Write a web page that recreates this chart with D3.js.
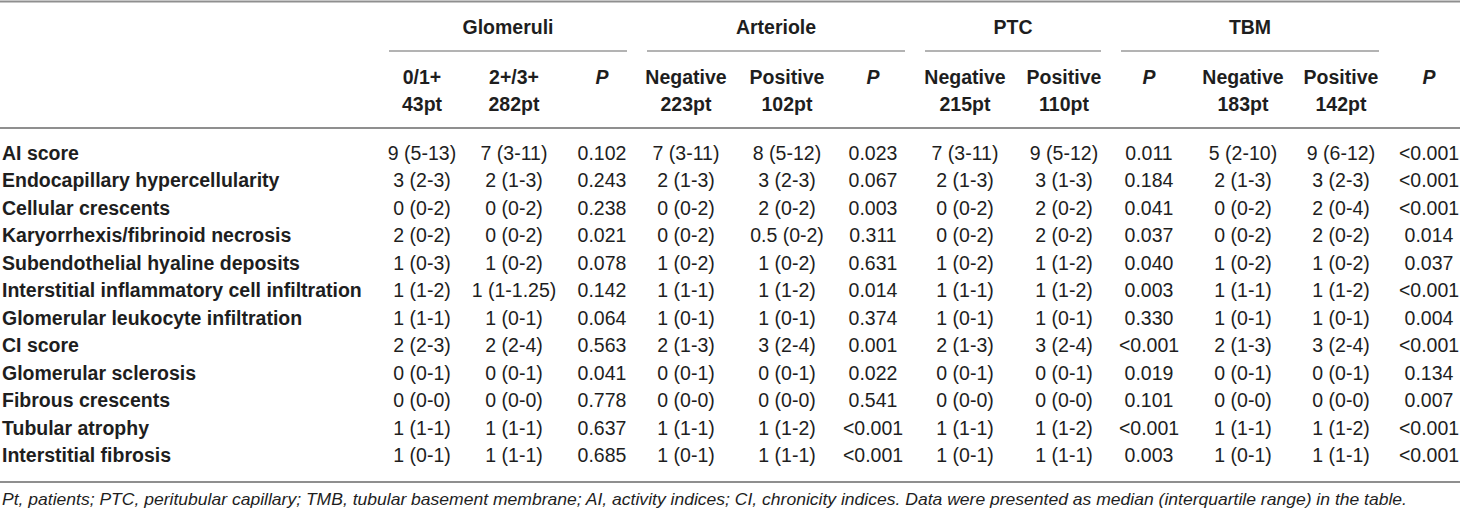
<!DOCTYPE html>
<html>
<head>
<meta charset="utf-8">
<script src="https://cdn.jsdelivr.net/npm/d3@7/dist/d3.min.js"></script>
<style>
  html, body { margin: 0; padding: 0; background: #fff; }
  svg { display: block; }
  text { font-family: "Liberation Sans", Arial, Helvetica, sans-serif; fill: #1e1e1e; }
</style>
</head>
<body>
<div id="chart"></div>
<script>
// ---------- DATA ----------
const groupNames = ["Glomeruli", "Arteriole", "PTC", "TBM"];
const groupSpans = [[0, 2], [3, 5], [6, 7], [8, 10]];   // column index ranges covered by each group rule
const subHeadTop = ["0/1+", "2+/3+", "P", "Negative", "Positive", "P", "Negative", "Positive", "P", "Negative", "Positive", "P"];
const subHeadBottom = ["43pt", "282pt", "", "223pt", "102pt", "", "215pt", "110pt", "", "183pt", "142pt", ""];

const rowLabels = [
  "AI score",
  "Endocapillary hypercellularity",
  "Cellular crescents",
  "Karyorrhexis/fibrinoid necrosis",
  "Subendothelial hyaline deposits",
  "Interstitial inflammatory cell infiltration",
  "Glomerular leukocyte infiltration",
  "CI score",
  "Glomerular sclerosis",
  "Fibrous crescents",
  "Tubular atrophy",
  "Interstitial fibrosis"
];

const glomLow  = ["9 (5-13)", "3 (2-3)", "0 (0-2)", "2 (0-2)", "1 (0-3)", "1 (1-2)", "1 (1-1)", "2 (2-3)", "0 (0-1)", "0 (0-0)", "1 (1-1)", "1 (0-1)"];
const glomHigh = ["7 (3-11)", "2 (1-3)", "0 (0-2)", "0 (0-2)", "1 (0-2)", "1 (1-1.25)", "1 (0-1)", "2 (2-4)", "0 (0-1)", "0 (0-0)", "1 (1-1)", "1 (1-1)"];
const glomP    = ["0.102", "0.243", "0.238", "0.021", "0.078", "0.142", "0.064", "0.563", "0.041", "0.778", "0.637", "0.685"];
const artNeg   = ["7 (3-11)", "2 (1-3)", "0 (0-2)", "0 (0-2)", "1 (0-2)", "1 (1-1)", "1 (0-1)", "2 (1-3)", "0 (0-1)", "0 (0-0)", "1 (1-1)", "1 (0-1)"];
const artPos   = ["8 (5-12)", "3 (2-3)", "2 (0-2)", "0.5 (0-2)", "1 (0-2)", "1 (1-2)", "1 (0-1)", "3 (2-4)", "0 (0-1)", "0 (0-0)", "1 (1-2)", "1 (1-1)"];
const artP     = ["0.023", "0.067", "0.003", "0.311", "0.631", "0.014", "0.374", "0.001", "0.022", "0.541", "<0.001", "<0.001"];
const ptcNeg   = ["7 (3-11)", "2 (1-3)", "0 (0-2)", "0 (0-2)", "1 (0-2)", "1 (1-1)", "1 (0-1)", "2 (1-3)", "0 (0-1)", "0 (0-0)", "1 (1-1)", "1 (0-1)"];
const ptcPos   = ["9 (5-12)", "3 (1-3)", "2 (0-2)", "2 (0-2)", "1 (1-2)", "1 (1-2)", "1 (0-1)", "3 (2-4)", "0 (0-1)", "0 (0-0)", "1 (1-2)", "1 (1-1)"];
const ptcP     = ["0.011", "0.184", "0.041", "0.037", "0.040", "0.003", "0.330", "<0.001", "0.019", "0.101", "<0.001", "0.003"];
const tbmNeg   = ["5 (2-10)", "2 (1-3)", "0 (0-2)", "0 (0-2)", "1 (0-2)", "1 (1-1)", "1 (0-1)", "2 (1-3)", "0 (0-1)", "0 (0-0)", "1 (1-1)", "1 (0-1)"];
const tbmPos   = ["9 (6-12)", "3 (2-3)", "2 (0-4)", "2 (0-2)", "1 (0-2)", "1 (1-2)", "1 (0-1)", "3 (2-4)", "0 (0-1)", "0 (0-0)", "1 (1-2)", "1 (1-1)"];
const tbmP     = ["<0.001", "<0.001", "<0.001", "0.014", "0.037", "<0.001", "0.004", "<0.001", "0.134", "0.007", "<0.001", "<0.001"];

const footnote = "Pt, patients; PTC, peritubular capillary; TMB, tubular basement membrane; AI, activity indices; CI, chronicity indices. Data were presented as median (interquartile range) in the table.";

// ---------- LAYOUT ----------
const W = 1460, H = 510;
const colEdges = [379, 468, 558, 637, 736, 830, 915, 1014, 1111, 1196, 1292, 1389, 1469];
const colCenters = [422, 514, 602, 686, 787, 873, 965, 1064, 1149, 1243, 1341, 1429];
const fs = 19.5;

const columns = [glomLow, glomHigh, glomP, artNeg, artPos, artP, ptcNeg, ptcPos, ptcP, tbmNeg, tbmPos, tbmP];
const colIdx = d3.range(columns.length);

const x = d3.scaleOrdinal().domain(colIdx).range(colCenters);
const xEdge = d3.scaleOrdinal().domain(d3.range(colEdges.length)).range(colEdges);
const y = d3.scalePoint().domain(d3.range(rowLabels.length)).range([153, 455.5]);

const svg = d3.select("#chart").append("svg").attr("width", W).attr("height", H);

// rules
const rules = [
  { y: 1.5, w: 2 },
  { y: 128, w: 2 },
  { y: 482, w: 2 }
];
svg.selectAll("line.rule").data(rules).join("line")
  .attr("class", "rule")
  .attr("x1", 0).attr("x2", W)
  .attr("y1", d => d.y).attr("y2", d => d.y)
  .attr("stroke", "#8f8f8f").attr("stroke-width", d => d.w);

// group headers
const groups = groupNames.map((name, i) => ({ name, s: groupSpans[i][0], e: groupSpans[i][1] }));
svg.selectAll("text.group").data(groups).join("text")
  .attr("class", "group")
  .attr("x", d => (xEdge(d.s) + xEdge(d.e + 1)) / 2)
  .attr("y", 27)
  .attr("dy", "0.35em")
  .attr("text-anchor", "middle")
  .attr("font-weight", "bold")
  .attr("font-size", fs)
  .text(d => d.name);

svg.selectAll("line.grule").data(groups).join("line")
  .attr("class", "grule")
  .attr("x1", d => xEdge(d.s) + 10)
  .attr("x2", d => xEdge(d.e + 1) - 10)
  .attr("y1", 51).attr("y2", 51)
  .attr("stroke", "#9a9a9a").attr("stroke-width", 1.5);

// sub headers
svg.selectAll("text.sh1").data(colIdx).join("text")
  .attr("class", "sh1")
  .attr("x", i => x(i)).attr("y", 77).attr("dy", "0.35em")
  .attr("text-anchor", "middle")
  .attr("font-weight", "bold")
  .attr("font-style", i => subHeadTop[i] === "P" ? "italic" : "normal")
  .attr("font-size", fs)
  .text(i => subHeadTop[i]);

svg.selectAll("text.sh2").data(colIdx).join("text")
  .attr("class", "sh2")
  .attr("x", i => x(i)).attr("y", 104).attr("dy", "0.35em")
  .attr("text-anchor", "middle")
  .attr("font-weight", "bold")
  .attr("font-size", fs)
  .text(i => subHeadBottom[i]);

// row labels
svg.selectAll("text.rl").data(rowLabels).join("text")
  .attr("class", "rl")
  .attr("x", 2).attr("y", (d, i) => y(i)).attr("dy", "0.35em")
  .attr("font-weight", "bold")
  .attr("font-size", fs)
  .text(d => d);

// cells
const cells = [];
columns.forEach((col, c) => col.forEach((v, r) => cells.push({ c, r, v })));
svg.selectAll("text.cell").data(cells).join("text")
  .attr("class", "cell")
  .attr("x", d => x(d.c)).attr("y", d => y(d.r)).attr("dy", "0.35em")
  .attr("text-anchor", "middle")
  .attr("font-size", fs)
  .attr("fill", "#2a2a2a")
  .text(d => d.v);

// footnote
svg.append("text")
  .attr("x", 2).attr("y", 499).attr("dy", "0.35em")
  .attr("font-style", "italic")
  .attr("font-size", 17)
  .attr("fill", "#2a2a2a")
  .attr("textLength", 1405)
  .attr("lengthAdjust", "spacingAndGlyphs")
  .text(footnote);
</script>
</body>
</html>
